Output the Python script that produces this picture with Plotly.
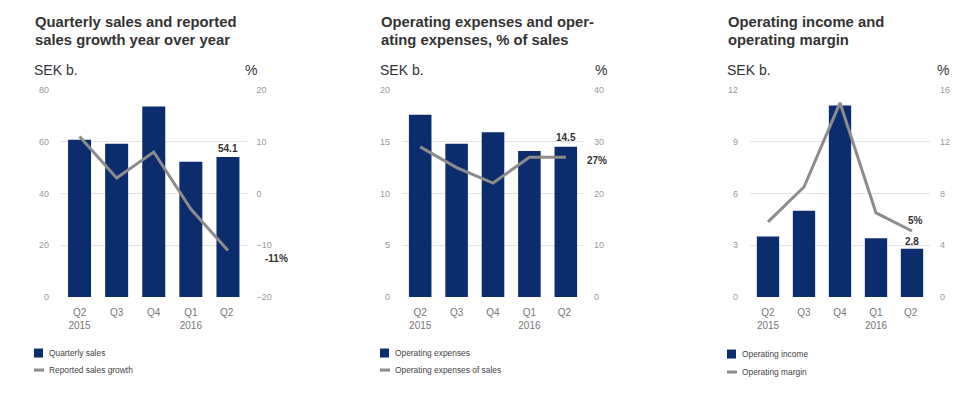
import plotly.graph_objects as go

quarters = ["Q2<br>2015", "Q3", "Q4", "Q1<br>2016", "Q2 "]
sales = [60.7, 59.2, 73.6, 52.2, 54.1]
sales_growth = [11, 3, 8, -3, -11]
opex = [17.6, 14.8, 15.9, 14.1, 14.5]
opex_pct = [29, 25, 22, 27, 27]
op_income = [3.5, 5.0, 11.1, 3.4, 2.8]
op_margin = [5.8, 8.5, 15.0, 6.5, 5.1]

titles = [["Quarterly sales and reported", "sales growth year over year"],
          ["Operating expenses and oper-", "ating expenses, % of sales"],
          ["Operating income and", "operating margin"]]
bar_names = ["Quarterly sales", "Operating expenses", "Operating income"]
line_names = ["Reported sales growth", "Operating expenses of sales", "Operating margin"]
left_ticks = [[0, 20, 40, 60, 80], [0, 5, 10, 15, 20], [0, 3, 6, 9, 12]]
right_ticks = [[-20, -10, 0, 10, 20], [0, 10, 20, 30, 40], [0, 4, 8, 12, 16]]
bar_values = [sales, opex, op_income]
line_values = [sales_growth, opex_pct, op_margin]

W, H = 968, 393
# calibration of the page capture (vertical scale and offset observed)
SY, EY = 0.974, 5.3
NAVY = "#0b2d6e"
GREY = "#8c8c8c"
FONT = "Liberation Sans, Arial, sans-serif"


def px(x):
    return x / W


def py(y):
    return 1 - (y / SY - EY) / H


x_domains = [[61, 246.5], [402, 584], [750, 930]]
y_dom = [py(297), py(90)]
title_x = [33, 379, 726]
pct_x = [251, 601, 943]

fig = go.Figure()
layout = dict(
    width=W, height=H, margin=dict(l=0, r=0, t=0, b=0),
    paper_bgcolor="white", plot_bgcolor="white",
    showlegend=False, bargap=0.38,
    font=dict(family=FONT, color="#333"),
)
annotations = []
shapes = []

for i in range(3):
    xa = f"x{i+1}" if i else "x"
    ya_l = f"y{i+1}" if i else "y"
    ya_r = f"y{i+4}"
    fig.add_trace(go.Bar(x=quarters, y=bar_values[i], marker_color=NAVY,
                         marker_line_width=0, name=bar_names[i],
                         xaxis=xa, yaxis=ya_l))
    fig.add_trace(go.Scatter(x=quarters, y=line_values[i], mode="lines",
                             line=dict(color=GREY, width=3), name=line_names[i],
                             xaxis=xa, yaxis=ya_r))
    xkey = "xaxis" + (str(i + 1) if i else "")
    ylkey = "yaxis" + (str(i + 1) if i else "")
    yrkey = f"yaxis{i+4}"
    layout[xkey] = dict(domain=[px(x_domains[i][0]), px(x_domains[i][1])],
                        anchor=ya_l, showgrid=False, showline=False, ticks="",
                        tickfont=dict(size=10, color="#777"), ticklabelstandoff=8,
                        fixedrange=True)
    lt = left_ticks[i]
    rt = right_ticks[i]
    layout[ylkey] = dict(domain=y_dom, anchor=xa, range=[lt[0], lt[-1]],
                         tickvals=lt, showgrid=True, gridcolor="#e4e4e4",
                         gridwidth=1, zeroline=False, showline=False, ticks="",
                         tickfont=dict(size=9, color="#999"),
                         ticklabelstandoff=11)
    layout[yrkey] = dict(domain=y_dom, anchor=xa, overlaying=ya_l, side="right",
                         range=[rt[0], rt[-1]], tickvals=rt, showgrid=False,
                         zeroline=False, showline=False, ticks="",
                         tickfont=dict(size=9, color="#999"),
                         ticklabelstandoff=9)
    # titles (two lines)
    for k, ty in enumerate([22, 40]):
        annotations.append(dict(text="<b>" + titles[i][k] + "</b>", x=px(title_x[i]), y=py(ty),
                                xref="paper", yref="paper", xanchor="left", yanchor="middle",
                                align="left", showarrow=False,
                                font=dict(size=14.8, color="#333", family=FONT)))
    annotations.append(dict(text="SEK b.", x=px(title_x[i] - 1), y=py(70),
                            xref="paper", yref="paper", xanchor="left", yanchor="middle",
                            showarrow=False, font=dict(size=14, color="#333", family=FONT)))
    annotations.append(dict(text="%", x=px(pct_x[i]), y=py(70),
                            xref="paper", yref="paper", xanchor="center", yanchor="middle",
                            showarrow=False, font=dict(size=14, color="#333", family=FONT)))
    # legend
    lx = title_x[i] + 1
    sq_y = 353 if i < 2 else 354
    ln_y = 370 if i < 2 else 372
    shapes.append(dict(type="rect", xref="paper", yref="paper",
                       x0=px(lx), x1=px(lx + 9), y0=py(sq_y - 4.5), y1=py(sq_y + 4.5),
                       fillcolor=NAVY, line=dict(width=0)))
    shapes.append(dict(type="rect", xref="paper", yref="paper",
                       x0=px(lx), x1=px(lx + 10), y0=py(ln_y - 1.5), y1=py(ln_y + 1.5),
                       fillcolor=GREY, line=dict(width=0)))
    annotations.append(dict(text=bar_names[i], x=px(lx + 13), y=py(sq_y),
                            xref="paper", yref="paper", xanchor="left", yanchor="middle",
                            showarrow=False, font=dict(size=8.4, color="#444", family=FONT)))
    annotations.append(dict(text=line_names[i], x=px(lx + 13), y=py(ln_y),
                            xref="paper", yref="paper", xanchor="left", yanchor="middle",
                            showarrow=False, font=dict(size=8.4, color="#444", family=FONT)))

# value labels
lab = dict(showarrow=False, font=dict(size=10, color="#333", family=FONT))
annotations.append(dict(text="<b>%.1f</b>" % sales[-1], x=quarters[-1], y=sales[-1],
                        xref="x", yref="y", yanchor="bottom", yshift=1, **lab))
annotations.append(dict(text="<b>%d%%</b>" % sales_growth[-1], x=px(263), y=sales_growth[-1],
                        xref="paper", yref="y4", yanchor="middle", yshift=-8, **lab))
annotations.append(dict(text="<b>%.1f</b>" % opex[-1], x=quarters[-1], y=opex[-1],
                        xref="x2", yref="y2", yanchor="bottom", yshift=2, **lab))
annotations.append(dict(text="<b>%d%%</b>" % opex_pct[-1], x=px(597), y=opex_pct[-1],
                        xref="paper", yref="y5", yanchor="middle", yshift=-3, **lab))
annotations.append(dict(text="<b>%.1f</b>" % op_income[-1], x=quarters[-1], y=op_income[-1],
                        xref="x3", yref="y3", yanchor="bottom", yshift=0, **lab))
annotations.append(dict(text="<b>%d%%</b>" % round(op_margin[-1]), x=px(925), y=op_margin[-1],
                        xref="paper", yref="y6", yanchor="middle", yshift=10, **lab))

layout["annotations"] = annotations
layout["shapes"] = shapes
fig.update_layout(**layout)
fig.write_html("out.html", config={"displayModeBar": False},
               post_script="document.body.style.margin='0';document.body.style.overflow='hidden';")
